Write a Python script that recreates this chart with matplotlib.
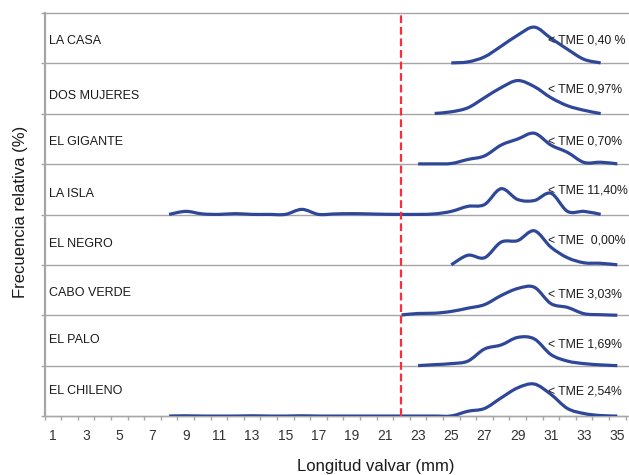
import numpy as np
import matplotlib
matplotlib.use("Agg")
import matplotlib.pyplot as plt
from matplotlib.path import Path
from matplotlib.patches import PathPatch

plt.rcParams["font.family"] = ["Liberation Sans", "DejaVu Sans"]

# Sampling sites, from top panel to bottom panel
sites = ["LA CASA", "DOS MUJERES", "EL GIGANTE", "LA ISLA",
         "EL NEGRO", "CABO VERDE", "EL PALO", "EL CHILENO"]
tme_labels = ["< TME 0,40 %", "< TME 0,97%", "< TME 0,70%", "< TME 11,40%",
              "< TME  0,00%", "< TME 3,03%", "< TME 1,69%", "< TME 2,54%"]

# First length class (mm) of each distribution
start_mm = [25, 24, 23, 8, 25, 22, 23, 8]

# Relative frequency (%) per 1-mm length class
la_casa = [0.4, 1.2, 5.2, 13.6, 22.4, 28.8, 20.0, 11.2, 3.2, 0.4]
dos_mujeres = [0.3, 1.6, 4.8, 12.8, 20.8, 26.4, 21.6, 12.8, 6.4, 2.8, 0.2]
el_gigante = [0.3, 0.3, 0.6, 3.8, 6.6, 15.2, 20.0, 24.6, 15.2, 9.4, 1.4, 1.6, 0.3]
la_isla = [0.2, 2.6, 0.6, 0.2, 0.8, 0.2, 0.2, 0.2, 4.2, 0.2, 0.6, 0.8, 0.6, 0.3, 0.2,
           0.2, 0.6, 2.6, 6.6, 8.0, 20.6, 12.0, 11.2, 17.0, 2.6, 2.6, 0.2]
el_negro = [0.2, 7.8, 5.8, 18.2, 19.4, 27.2, 14.2, 5.8, 1.8, 1.4, 0.2]
cabo_verde = [0.4, 1.6, 1.8, 3.2, 5.8, 8.6, 15.8, 21.4, 22.4, 9.4, 6.4, 1.4, 0.6, 0.2]
el_palo = [0.2, 1.0, 1.8, 3.8, 13.4, 16.6, 22.6, 21.4, 9.0, 3.8, 1.8, 0.8, 0.2]
el_chileno = [0.2, 0.4, 0.2, 0.2, 0.2, 0.4, 0.2, 0.2, 0.4, 0.2, 0.2, 0.2, 0.2, 0.2, 0.2,
              0.2, 0.2, 0.3, 4.0, 6.2, 14.6, 22.6, 25.6, 17.4, 6.2, 2.2, 0.6, 0.2]

series = [la_casa, dos_mujeres, el_gigante, la_isla,
          el_negro, cabo_verde, el_palo, el_chileno]

tme_mm = 22            # minimum legal size (TME)
x_ticks = list(range(1, 36, 2))
panel_span = 40        # % range of each panel
n = len(sites)

# vertical placement of the site name and TME note inside each panel
name_offset = [18.0, 14.5, 17.5, 16.0, 17.0, 17.8, 20.8, 20.0]
tme_offset = [17.8, 19.3, 17.8, 19.3, 19.3, 17.0, 17.0, 19.3]

line_color = "#2f4799"
grid_color = "#a6a6a6"


def smooth_path(x, y):
    """Catmull-Rom style Bezier path through the points (smoothed line)."""
    pts = np.column_stack([x, y]).astype(float)
    ext = np.vstack([pts[0], pts, pts[-1]])
    verts = [pts[0]]
    codes = [Path.MOVETO]
    for i in range(len(pts) - 1):
        p0, p1, p2, p3 = ext[i], ext[i + 1], ext[i + 2], ext[i + 3]
        c1 = p1 + (p2 - p0) / 6.0
        c2 = p2 - (p3 - p1) / 6.0
        verts += [c1, c2, p2]
        codes += [Path.CURVE4] * 3
    return Path(verts, codes)


fig = plt.figure(figsize=(6.29, 4.75), dpi=100)
ax = fig.add_axes([44.6 / 629, 1 - 416.3 / 475, 581 / 629, 403.3 / 475])
ax.set_xlim(0.5, 35.5)
ax.set_ylim(0, n * panel_span)

# panel separators
for k in range(n + 1):
    ax.axhline(k * panel_span, xmin=0, xmax=1.006, color=grid_color, lw=1.0,
               zorder=1, clip_on=False)

for i, (name, vals, x0, tme) in enumerate(zip(sites, series, start_mm, tme_labels)):
    base = (n - 1 - i) * panel_span
    x = np.arange(x0, x0 + len(vals))
    y = base + np.asarray(vals, dtype=float)
    patch = PathPatch(smooth_path(x, y), fill=False, edgecolor=line_color,
                      lw=2.3, capstyle="butt", joinstyle="round", zorder=3)
    ax.add_patch(patch)
    ax.text(0.75, base + name_offset[i], name, fontsize=9, color="#1a1a1a",
            ha="left", va="center")
    ax.text(30.8, base + tme_offset[i], tme, fontsize=8.8, color="#1a1a1a",
            ha="left", va="center", zorder=4)

ax.axvline(tme_mm, color="#ff2a3c", lw=1.6, ls=(0, (3.5, 1.7)), zorder=4)

# axes styling
for side in ["top", "right"]:
    ax.spines[side].set_visible(False)
ax.spines["left"].set_color(grid_color)
ax.spines["left"].set_linewidth(1.6)
ax.spines["bottom"].set_color(grid_color)
ax.spines["bottom"].set_linewidth(1.0)

ax.set_yticks([k * panel_span for k in range(n + 1)])
ax.set_yticklabels([])
ax.tick_params(axis="y", length=3, width=1.0, color=grid_color, direction="out")

ax.set_xticks(x_ticks)
ax.set_xticklabels([str(v) for v in x_ticks], fontsize=10, color="#333333")
ax.set_xticks(np.arange(0.5, 36, 1.0), minor=True)
ax.tick_params(axis="x", which="major", length=0, pad=9)
ax.tick_params(axis="x", which="minor", length=3, width=1.0, color=grid_color,
               direction="out")

fig.text(376 / 629, 1 - 466 / 475, "Longitud valvar (mm)", fontsize=12,
         color="#1a1a1a", ha="center", va="center")
fig.text(21 / 629, 1 - 212 / 475, "Frecuencia relativa (%)", fontsize=12,
         color="#1a1a1a", ha="center", va="center", rotation=90)

fig.savefig("out.png", dpi=100)
